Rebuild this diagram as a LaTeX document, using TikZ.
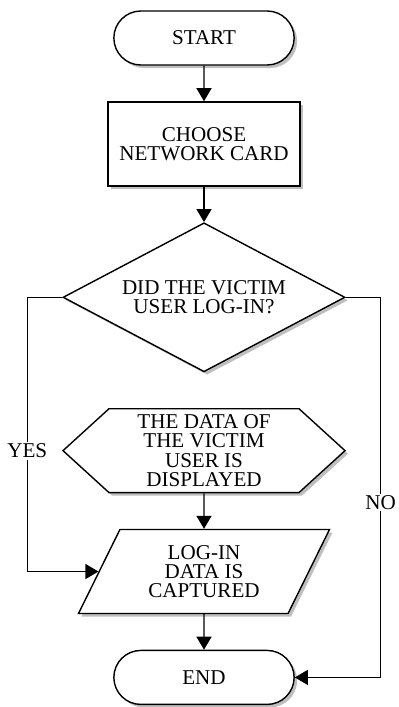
\documentclass[tikz,border=0pt]{standalone}
\usepackage{fontspec}
\setmainfont{Liberation Serif}
\usetikzlibrary{shapes.geometric, shapes.misc, shapes.symbols, arrows.meta, positioning, shadows}
\tikzstyle{boxshadow} = [drop shadow={shadow xshift=0.06cm, shadow yshift=-0.06cm, opacity=0.25, fill=black}]
\tikzstyle{startstop} = [rounded rectangle, minimum width=3.84cm, minimum height=1.08cm, text centered, draw=black, thick, fill=white, boxshadow]
\tikzstyle{process} = [rectangle, minimum width=3.84cm, minimum height=1.68cm, align=center, draw=black, thick, fill=white, boxshadow]
\tikzstyle{decision} = [diamond, aspect=1.89, inner sep=0pt, minimum width=5.64cm, minimum height=2.98cm, align=center, draw=black, thick, fill=white, boxshadow]
\tikzstyle{display} = [signal, signal to=west and east, signal pointer angle=84.7, minimum width=5.64cm, minimum height=1.64cm, align=center, draw=black, thick, fill=white, boxshadow]
\tikzstyle{io} = [trapezium, trapezium left angle=57.3, trapezium right angle=122.7, trapezium stretches body, minimum width=5.02cm, minimum height=1.68cm, align=center, draw=black, thick, fill=white, boxshadow]
\tikzstyle{arrow} = [thick, -{Triangle[length=0.26cm, width=0.3cm]}]
\tikzstyle{answer} = [fill=white, inner sep=1pt]

\begin{document}
\begin{tikzpicture}[node distance = 0.71cm, font=\fontsize{12}{11}\selectfont]
        \useasboundingbox (0,0) rectangle (7.96,-14.14);
        \node (start) [startstop] at (4.08,-0.76) {START};
        \node (card) [process, below = of start] {CHOOSE\\NETWORK CARD};
        \node (login) [decision, below = of card] {DID THE VICTIM\\USER LOG-IN?};
        \node (shown) [display, below = of login] {THE DATA OF\\THE VICTIM\\USER IS\\DISPLAYED};
        \node (capture) [io, below = of shown] {LOG-IN\\DATA IS\\CAPTURED};
        \node (stop) [startstop, below = of capture] {END};

        \draw [arrow] (start) -- (card);
        \draw [arrow] (card) -- (login);
        \draw [arrow] (shown) -- (capture);
        \draw [arrow] (capture) -- (stop);
        \draw [arrow] (login.west) -- ++(-0.7,0) |- node[answer, pos=0.28]{YES} (capture.west);
        \draw [arrow] (login.east) -- ++(0.7,0) |- node[answer, pos=0.27]{NO} (stop.east);

    \end{tikzpicture}
\end{document}
